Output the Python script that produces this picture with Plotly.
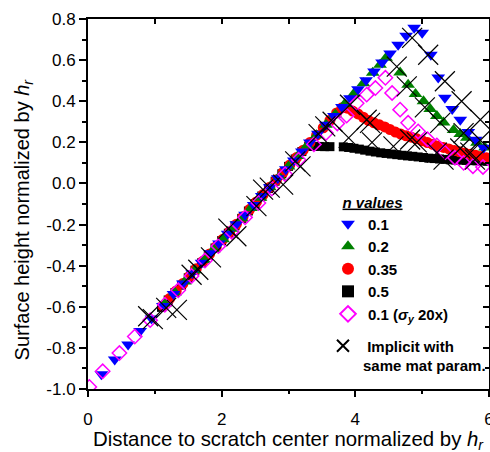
import plotly.graph_objects as go

# ---------------- data ----------------
# n = 0.1
blue_x = [0.2, 0.4, 0.6, 0.78, 0.95, 1.12, 1.28, 1.42, 1.56, 1.7, 1.83, 1.96, 2.09, 2.22,
          2.35, 2.48, 2.6, 2.72, 2.84, 2.96, 3.08, 3.2, 3.32, 3.44, 3.56, 3.68, 3.8, 3.92,
          4.04, 4.16, 4.28, 4.4, 4.52, 4.64, 4.76, 4.88, 5.0, 5.13, 5.24, 5.34, 5.45, 5.57,
          5.69, 5.8, 5.92]
blue_y = [-0.928, -0.856, -0.783, -0.718, -0.657, -0.596, -0.538, -0.487, -0.437, -0.386,
          -0.339, -0.292, -0.245, -0.199, -0.152, -0.105, -0.061, -0.018, 0.025, 0.069,
          0.112, 0.155, 0.199, 0.242, 0.285, 0.328, 0.372, 0.415, 0.458, 0.502, 0.545,
          0.588, 0.632, 0.675, 0.718, 0.758, 0.733, 0.626, 0.516, 0.417, 0.362, 0.31,
          0.25, 0.213, 0.174]

# n = 0.2
green_x = [1.15, 1.3, 1.45, 1.6, 1.74, 1.88, 2.02, 2.16, 2.3, 2.44, 2.58, 2.72, 2.86, 3.0,
           3.14, 3.28, 3.42, 3.56, 3.7, 3.84, 3.98, 4.12, 4.26, 4.37, 4.46, 4.67, 4.79,
           4.9, 5.02, 5.12, 5.22, 5.32, 5.47, 5.57, 5.67, 5.82, 5.94]
green_y = [-0.585, -0.531, -0.477, -0.422, -0.372, -0.321, -0.271, -0.22, -0.17, -0.12,
           -0.069, -0.018, 0.032, 0.083, 0.134, 0.184, 0.235, 0.285, 0.336, 0.386, 0.437,
           0.487, 0.538, 0.578, 0.612, 0.54, 0.48, 0.435, 0.4, 0.362, 0.328, 0.296, 0.26,
           0.24, 0.222, 0.198, 0.175]

# n = 0.35
red_x = [1.12, 1.22, 1.32, 1.42, 1.52, 1.62, 1.72, 1.82, 1.92, 2.02, 2.12, 2.22, 2.32,
         2.42, 2.52, 2.62, 2.72, 2.82, 2.92, 3.02, 3.12, 3.22, 3.32, 3.42, 3.52, 3.62,
         3.72, 3.8, 3.88, 3.96, 4.04, 4.12, 4.2, 4.28, 4.36, 4.44, 4.52, 4.6, 4.68, 4.76,
         4.84, 4.92, 5.0, 5.08, 5.16, 5.24, 5.32, 5.4, 5.48, 5.56, 5.64, 5.72, 5.8, 5.88,
         5.96]
red_y = [-0.596, -0.56, -0.523, -0.487, -0.451, -0.415, -0.379, -0.343, -0.307, -0.271,
         -0.235, -0.199, -0.162, -0.126, -0.09, -0.054, -0.018, 0.018, 0.054, 0.09,
         0.126, 0.162, 0.199, 0.235, 0.271, 0.307, 0.343, 0.368, 0.366, 0.352, 0.338,
         0.322, 0.306, 0.295, 0.285, 0.275, 0.262, 0.25, 0.24, 0.232, 0.225, 0.217,
         0.208, 0.199, 0.19, 0.182, 0.175, 0.168, 0.16, 0.154, 0.148, 0.142, 0.137,
         0.131, 0.125]

# n = 0.5
black_x = [1.1, 1.2, 1.3, 1.4, 1.5, 1.6, 1.7, 1.8, 1.9, 2.0, 2.1, 2.2, 2.3, 2.4, 2.5,
           2.6, 2.7, 2.8, 2.9, 3.0, 3.1, 3.2, 3.3, 3.38, 3.46, 3.54, 3.62, 3.82, 3.9,
           3.98, 4.06, 4.14, 4.22, 4.3, 4.38, 4.46, 4.54, 4.62, 4.7, 4.78, 4.86, 4.94,
           5.02, 5.1, 5.18, 5.26, 5.34, 5.42, 5.5, 5.58, 5.66, 5.74, 5.82, 5.9, 5.98]
black_y = [-0.603, -0.567, -0.531, -0.495, -0.459, -0.422, -0.386, -0.35, -0.314, -0.278,
           -0.242, -0.206, -0.17, -0.134, -0.098, -0.061, -0.025, 0.011, 0.047, 0.083,
           0.119, 0.155, 0.18, 0.18, 0.18, 0.179, 0.179, 0.178, 0.175, 0.171, 0.167,
           0.162, 0.157, 0.153, 0.149, 0.146, 0.143, 0.14, 0.137, 0.134, 0.132, 0.129,
           0.126, 0.123, 0.121, 0.119, 0.117, 0.115, 0.114, 0.113, 0.112, 0.111, 0.11,
           0.109, 0.108]

# n = 0.1 (sigma_y 20x)
mag_x = [0.02, 0.22, 0.47, 0.7, 0.93, 1.15, 1.35, 1.55, 1.75, 1.95, 2.15, 2.35, 2.55,
         2.75, 2.95, 3.15, 3.38, 3.56, 3.73, 3.87, 4.02, 4.17, 4.3, 4.45, 4.55, 4.67,
         4.79, 4.94, 5.08, 5.22, 5.34, 5.49, 5.62, 5.76, 5.91]
mag_y = [-0.99, -0.914, -0.825, -0.745, -0.665, -0.59, -0.52, -0.45, -0.375, -0.305,
         -0.235, -0.165, -0.095, -0.025, 0.045, 0.115, 0.19, 0.245, 0.292, 0.33, 0.39,
         0.432, 0.464, 0.514, 0.44, 0.359, 0.295, 0.253, 0.215, 0.185, 0.15, 0.125, 0.1,
         0.084, 0.08]

# Implicit with same material parameters
imp_x = [0.9, 0.97, 1.17, 1.33, 1.55, 1.65, 1.84, 2.1, 2.22, 2.52, 2.62, 2.72, 2.92,
         3.1, 3.18, 3.45, 3.55, 3.66, 3.92, 3.9, 4.22, 4.25, 4.57, 4.62, 4.85, 4.77,
         4.92, 5.09, 5.04, 5.34, 5.27, 5.59, 5.62, 5.87, 5.87, 4.82, 5.22, 5.57, 5.79,
         5.32, 5.72, 4.17]
imp_y = [-0.646, -0.66, -0.605, -0.615, -0.444, -0.42, -0.36, -0.22, -0.257, -0.11,
         -0.03, -0.02, -0.006, 0.107, 0.083, 0.24, 0.278, 0.3, 0.383, 0.222, 0.295,
         0.2, 0.18, 0.568, 0.708, 0.472, 0.2, 0.626, 0.37, 0.497, 0.295, 0.4, 0.245,
         0.31, 0.21, 0.214, 0.15, 0.17, 0.116, 0.116, 0.15, 0.31]

# axis ticks
x_ticks = [0, 2, 4, 6]
x_ticktext = ["0", "2", "4", "6"]
x_minor = [1, 3, 5]
y_ticks = [-1.0, -0.8, -0.6, -0.4, -0.2, 0.0, 0.2, 0.4, 0.6, 0.8]
y_ticktext = ["-1.0", "-0.8", "-0.6", "-0.4", "-0.2", "0.0", "0.2", "0.4", "0.6", "0.8"]
y_minor = [-0.9, -0.7, -0.5, -0.3, -0.1, 0.1, 0.3, 0.5, 0.7]

FONT = "Liberation Sans, Arial, Helvetica, sans-serif"
NB = "\u00a0"

fig = go.Figure()

fig.add_trace(go.Scatter(x=black_x, y=black_y, mode="markers", name="0.5", legendrank=4,
                         marker=dict(symbol="square", size=9, color="black",
                                     line=dict(width=0))))
fig.add_trace(go.Scatter(x=red_x, y=red_y, mode="markers", name="0.35", legendrank=3,
                         marker=dict(symbol="circle", size=11, color="#ff0000",
                                     line=dict(width=0))))
fig.add_trace(go.Scatter(x=green_x, y=green_y, mode="markers", name="0.2", legendrank=2,
                         marker=dict(symbol="triangle-up", size=12, color="#008000",
                                     line=dict(width=0))))
fig.add_trace(go.Scatter(x=blue_x, y=blue_y, mode="markers", name="0.1", legendrank=1,
                         marker=dict(symbol="triangle-down", size=12, color="#0000ff",
                                     line=dict(width=0))))
fig.add_trace(go.Scatter(x=mag_x, y=mag_y, mode="markers",
                         name="0.1 (<i>σ<sub>y</sub></i> 20x)", legendrank=5,
                         marker=dict(symbol="diamond-open", size=11, color="#ff00ff",
                                     line=dict(width=1.5, color="#ff00ff"))))
fig.add_trace(go.Scatter(x=imp_x, y=imp_y, mode="markers", legend="legend2",
                         name=NB + "Implicit with<br>same mat param.",
                         marker=dict(symbol="x-thin-open", size=20, color="black",
                                     line=dict(width=1.2, color="black"))))
# invisible trace to anchor the mirrored (top/right) tick axes
fig.add_trace(go.Scatter(x=[], y=[], xaxis="x2", yaxis="y2", showlegend=False,
                         hoverinfo="skip"))

tickfont = dict(family=FONT, size=17, color="black")
xtitlefont = dict(family=FONT, size=20.4, color="black")
ytitlefont = dict(family=FONT, size=20, color="black")

fig.update_layout(
    width=490, height=452,
    margin=dict(l=88, r=1, t=19, b=63, autoexpand=False),
    paper_bgcolor="white", plot_bgcolor="white",
    font=dict(family=FONT, color="black"),
    xaxis=dict(range=[0, 6], tickmode="array", tickvals=x_ticks, ticktext=x_ticktext,
               ticks="outside", ticklen=6, tickwidth=1.5, tickcolor="black",
               ticklabelstandoff=8, ticklabeloverflow="allow",
               minor=dict(tickmode="array", tickvals=x_minor, ticks="outside",
                          ticklen=3, tickwidth=1.5, tickcolor="black"),
               showline=True, linewidth=2, linecolor="black", mirror=True,
               showgrid=False, zeroline=False, tickfont=tickfont, automargin=False),
    yaxis=dict(range=[-1.0, 0.8], tickmode="array", tickvals=y_ticks, ticktext=y_ticktext,
               ticks="outside", ticklen=7, tickwidth=1.5, tickcolor="black",
               ticklabeloverflow="allow",
               minor=dict(tickmode="array", tickvals=y_minor, ticks="outside",
                          ticklen=4, tickwidth=1.5, tickcolor="black"),
               showline=True, linewidth=2, linecolor="black", mirror=True,
               showgrid=False, zeroline=False, tickfont=tickfont, automargin=False),
    xaxis2=dict(range=[0, 6], overlaying="x", side="top", anchor="y",
                tickmode="array", tickvals=[1, 2, 3, 4, 5], ticks="inside", ticklen=5,
                tickwidth=1.5, tickcolor="black", showticklabels=False,
                showline=False, showgrid=False, zeroline=False),
    yaxis2=dict(range=[-1.0, 0.8], overlaying="y", side="right", anchor="x",
                tickmode="array", tickvals=y_ticks, ticks="inside", ticklen=6,
                tickwidth=1.5, tickcolor="black", showticklabels=False,
                minor=dict(tickmode="array", tickvals=y_minor, ticks="inside",
                           ticklen=4, tickwidth=1.5, tickcolor="black"),
                showline=False, showgrid=False, zeroline=False),
    legend=dict(x=0.5985, y=0.543, xref="paper", yref="paper", xanchor="left",
                yanchor="top",
                bgcolor="rgba(0,0,0,0)", borderwidth=0, itemsizing="constant",
                font=dict(family=FONT, size=15, color="black", weight="bold"),
                title=dict(text=NB + NB + NB + "<i><u>n values</u></i>",
                           font=dict(family=FONT, size=15, color="black", weight="bold"))),
    legend2=dict(x=0.586, y=0.1606, xref="paper", yref="paper", xanchor="left",
                 yanchor="top", valign="top",
                 bgcolor="rgba(0,0,0,0)", borderwidth=0, itemsizing="constant",
                 font=dict(family=FONT, size=15, color="black", weight="bold")),
    showlegend=True,
    annotations=[
        dict(text="Distance to scratch center normalized by <i>h<sub>r</sub></i>",
             xref="paper", yref="paper", x=0.5, y=-0.138, xanchor="center",
             yanchor="middle", showarrow=False, font=xtitlefont),
        dict(text="Surface height normalized by <i>h<sub>r</sub></i>",
             xref="paper", yref="paper", x=-0.16, y=0.458, xanchor="center",
             yanchor="middle", textangle=-90, showarrow=False, font=ytitlefont),
    ],
)

# remove the default page margin so the 490x452 figure fills the window exactly
fig.write_html("out.html",
               config={"displayModeBar": False},
               post_script="document.body.style.margin='0px';"
                           "document.body.style.overflow='hidden';")
